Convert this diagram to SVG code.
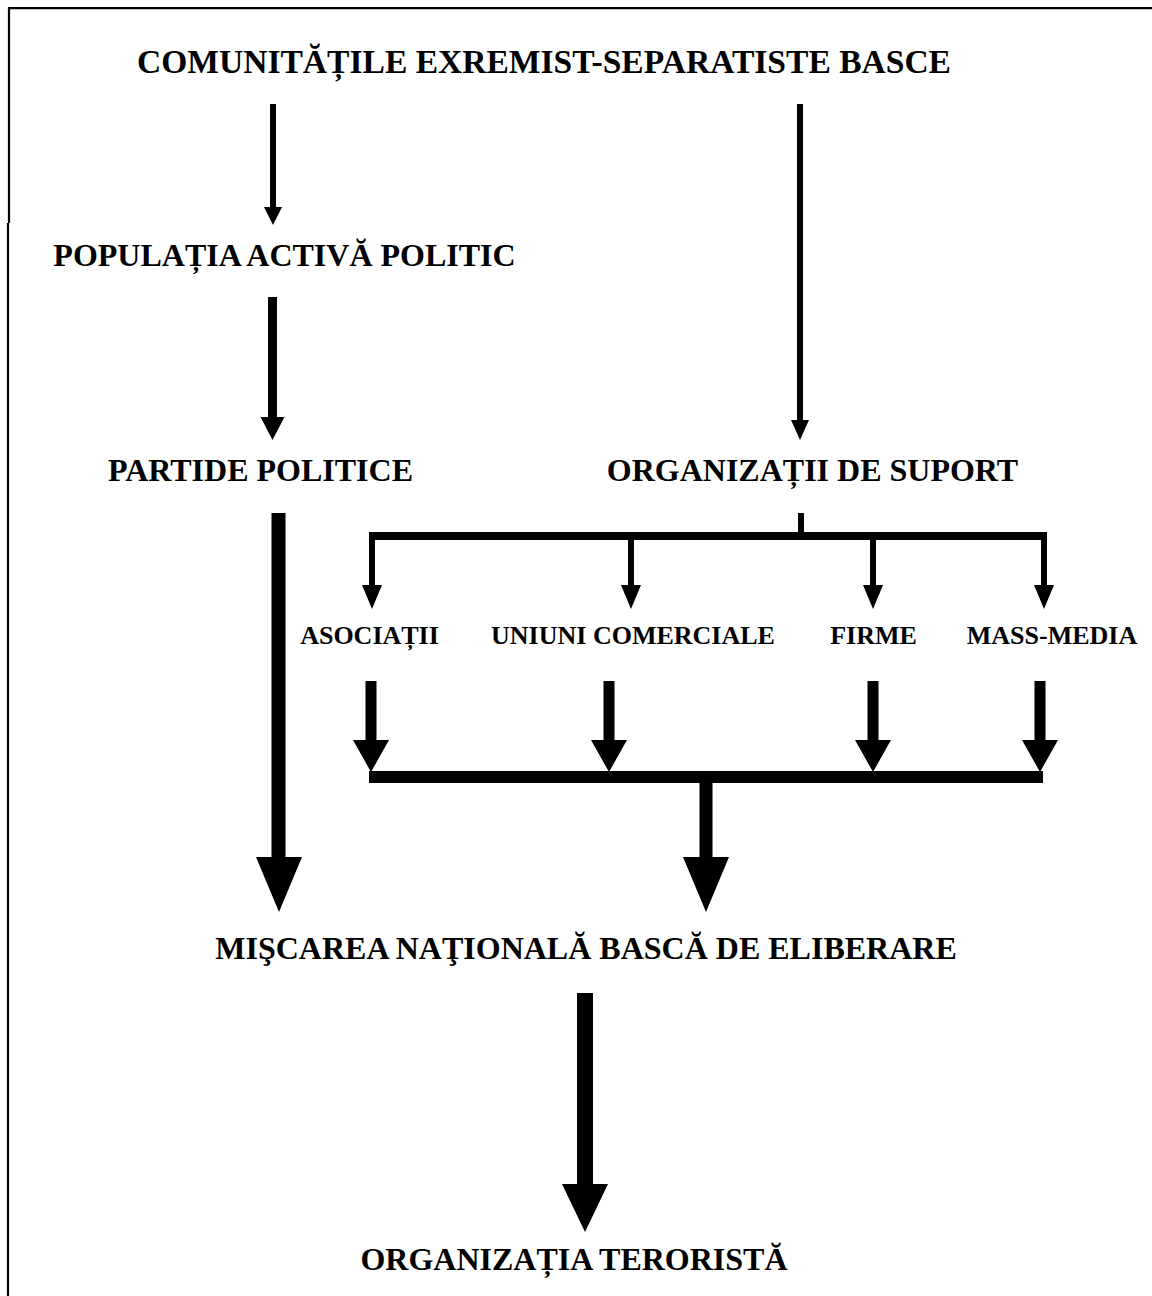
<svg xmlns="http://www.w3.org/2000/svg" width="1152" height="1296" viewBox="0 0 1152 1296">
<style>
  .t { font-family: "Liberation Serif", "Times New Roman", serif; font-weight: bold; fill: #000; text-anchor: middle; }
  .big { font-size: 32px; }
  .title { font-size: 33px; }
  .small { font-size: 26px; }
  .c { fill: #000; stroke: none; }
  .frame { fill: none; stroke: #000; stroke-width: 2.2; }
</style>
<rect width="1152" height="1296" fill="#fff"/>
<g id="frame">
  <path class="frame" d="M8,8.2 H1152 M9,7 V223 M8,223 V1296"/>
</g>
<g id="connectors">
  <path class="c" d="M270,104 H276 V207 H282 L273,225 L264,207 H270 Z"/>
  <path class="c" d="M268,297 H277 V417 H284.5 L272.5,440 L260.5,417 H268 Z"/>
  <path class="c" d="M797,104 H803 V420 H809 L800,440 L791,420 H797 Z"/>
  <rect class="c" x="798" y="513" width="6" height="22"/>
  <rect class="c" x="369" y="532" width="678" height="8"/>
  <path class="c" d="M369,536 H375 V585 H382 L372,609 L362,585 H369 Z"/>
  <path class="c" d="M628,536 H634 V585 H641 L631,609 L621,585 H628 Z"/>
  <path class="c" d="M870,536 H876 V585 H883 L873,609 L863,585 H870 Z"/>
  <path class="c" d="M1041,536 H1047 V585 H1054 L1044,609 L1034,585 H1041 Z"/>
  <path class="c" d="M365.5,681 H376.5 V740 H389 L371,772 L353,740 H365.5 Z"/>
  <path class="c" d="M603.5,681 H614.5 V740 H627 L609,772 L591,740 H603.5 Z"/>
  <path class="c" d="M867.5,681 H878.5 V740 H891 L873,772 L855,740 H867.5 Z"/>
  <path class="c" d="M1034.5,681 H1045.5 V740 H1058 L1040,772 L1022,740 H1034.5 Z"/>
  <rect class="c" x="369" y="771" width="674" height="12"/>
  <path class="c" d="M699.5,780 H712.5 V857 H729 L706,912 L683,857 H699.5 Z"/>
  <path class="c" d="M271.5,513 H285.5 V857 H302 L279,912 L256,857 H271.5 Z"/>
  <path class="c" d="M577,993 H593 V1184 H608 L585,1232 L562,1184 H577 Z"/>
</g>
<g id="n-comunitati"><text class="t title" x="544" y="73" textLength="814" lengthAdjust="spacingAndGlyphs">COMUNITĂȚILE EXREMIST-SEPARATISTE BASCE</text></g>
<g id="n-populatia"><text class="t big" x="284.5" y="266">POPULAȚIA ACTIVĂ POLITIC</text></g>
<g id="n-partide"><text class="t big" x="260.5" y="481">PARTIDE POLITICE</text></g>
<g id="n-organizatii"><text class="t big" x="812.5" y="481">ORGANIZAȚII DE SUPORT</text></g>
<g id="n-asociatii"><text class="t small" x="369.5" y="644">ASOCIAȚII</text></g>
<g id="n-uniuni"><text class="t small" x="633" y="644">UNIUNI COMERCIALE</text></g>
<g id="n-firme"><text class="t small" x="873.5" y="644">FIRME</text></g>
<g id="n-massmedia"><text class="t small" x="1052" y="644">MASS-MEDIA</text></g>
<g id="n-miscarea"><text class="t big" x="586" y="959">MIŞCAREA NAŢIONALĂ BASCĂ DE ELIBERARE</text></g>
<g id="n-organizatia"><text class="t big" x="574" y="1270">ORGANIZAȚIA TERORISTĂ</text></g>
</svg>
